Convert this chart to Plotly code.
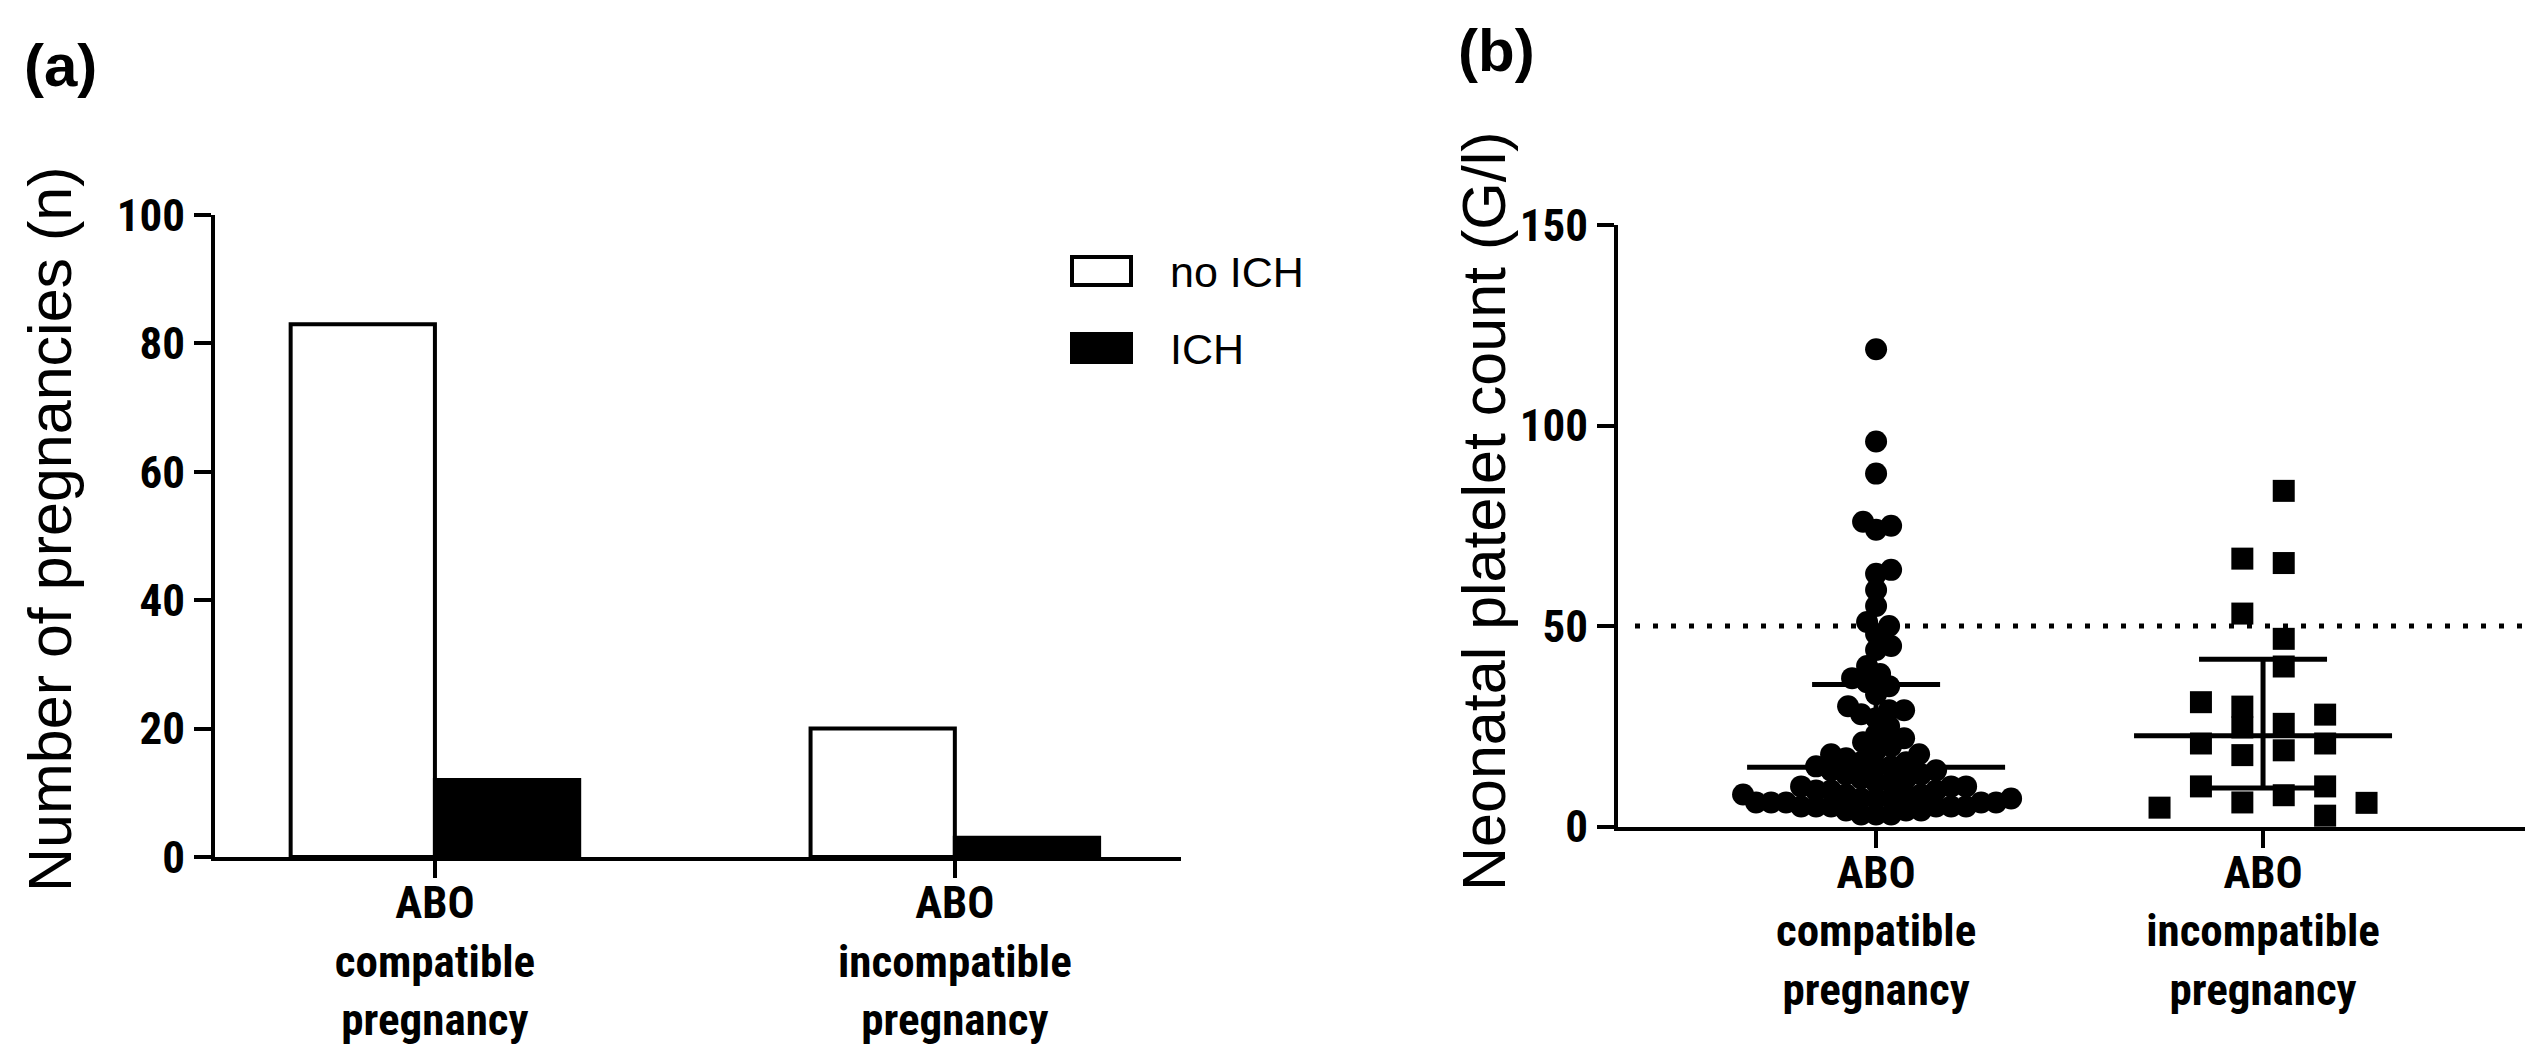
import numpy as np
import plotly.graph_objects as go

# ---------------- data ----------------
group_labels = ["ABO<br>compatible<br>pregnancy", "ABO<br>incompatible<br>pregnancy"]
group_pos = [0, 1]

# panel (a): number of pregnancies
no_ich_counts = [83, 20]
ich_counts = [12, 3]

# panel (b): neonatal platelet counts (G/l)
compatible_platelets = [119, 96, 88, 76, 75, 74, 64, 63, 59, 55,
                        51, 50, 48, 45, 44, 40, 38, 37, 36, 35,
                        33, 30, 29, 29, 28, 27, 25, 23, 22, 21,
                        20, 19, 18, 18, 17, 16, 16, 15, 15, 15,
                        14, 14, 13, 13, 12, 12, 11, 11, 10, 10,
                        10, 9, 9, 9, 8, 8, 8, 8, 7, 7,
                        7, 7, 6, 6, 6, 6, 6, 5, 5, 5,
                        5, 5, 5, 4, 4, 4, 3, 3, 3]
incompatible_platelets = [83.7, 66.8, 65.7, 53.1, 46.8, 39.9, 31.0, 29.9, 27.9, 25.6,
                          24.7, 20.7, 20.7, 19.0, 17.8, 10.0, 10.0, 7.8, 6.0, 4.7,
                          5.9, 2.7]
# column slot of each square in the scatter (half-column units)
incompatible_slot = [1, -1, 1, -1, 1, 1, -3, -1, 3, 1,
                     -1, -3, 3, 1, -1, -3, 3, 1, -1, -5,
                     5, 3]
median_vals = [14.8, 22.6]
q1_vals = [6.0, 9.6]
q3_vals = [35.4, 41.7]
threshold = 50

# ---------------- layout constants ----------------
W, H = 2536, 1062
NARROW = "Liberation Sans Narrow, Arial Narrow, Roboto Condensed, DejaVu Sans Condensed, sans-serif"
ARIAL = "Liberation Sans, Arial, Helvetica, sans-serif"

def px(xp):
    return xp / W

def py(yp):
    return 1 - yp / H

# panel geometry (pixels)
a_x0, a_x1, a_ytop, a_ybot = 207, 1173, 207, 849
b_x0, b_x1, b_ytop, b_ybot = 1610, 2517, 217, 818.5
a_xrange = [-0.423, 1.435]
b_xrange = [-0.667, 1.677]
b_px_per_x = (b_x1 - b_x0) / (b_xrange[1] - b_xrange[0])
b_px_per_y = (b_ybot - b_ytop) / 150.0
MARK = 22


def swarm_offsets(values, diam_px, ppx, ppy, frac=0.68):
    vals = np.asarray(values, dtype=float)
    order = np.argsort(vals, kind="stable")
    placed = []
    offs = np.zeros(len(vals))
    dmin2 = (diam_px * frac) ** 2
    cands = [0]
    for k in range(1, 600):
        cands += [k, -k]
    for i in order:
        yv = vals[i] * ppy
        for c in cands:
            if all((c - p) ** 2 + (yv - q) ** 2 >= dmin2 for p, q in placed):
                break
        placed.append((c, yv))
        offs[i] = c / ppx
    return offs


comp_x = group_pos[0] + swarm_offsets(compatible_platelets, MARK, b_px_per_x, b_px_per_y)
slot_w = 20.7 / b_px_per_x
incomp_x = [group_pos[1] + s * slot_w for s in incompatible_slot]

fig = go.Figure()

# ---- panel (a) bars ----
fig.add_trace(go.Bar(x=group_pos, y=no_ich_counts, name="no ICH",
                     marker=dict(color="white", line=dict(color="black", width=4)),
                     xaxis="x", yaxis="y", showlegend=False))
fig.add_trace(go.Bar(x=group_pos, y=ich_counts, name="ICH",
                     marker=dict(color="black", line=dict(color="black", width=4)),
                     xaxis="x", yaxis="y", showlegend=False))

# ---- panel (b) median / IQR lines ----
long_hw = 129 / b_px_per_x
short_hw = 64 / b_px_per_x
lx, ly = [], []
for g, m, lo, hi in zip(group_pos, median_vals, q1_vals, q3_vals):
    lx += [g - long_hw, g + long_hw, None, g - short_hw, g + short_hw, None,
           g - short_hw, g + short_hw, None, g, g, None]
    ly += [m, m, None, lo, lo, None, hi, hi, None, lo, hi, None]
fig.add_trace(go.Scatter(x=lx, y=ly, mode="lines", line=dict(color="black", width=5),
                         xaxis="x2", yaxis="y2", showlegend=False, hoverinfo="skip",
                         cliponaxis=False))

fig.add_trace(go.Scatter(x=comp_x, y=compatible_platelets, mode="markers",
                         name="ABO compatible",
                         marker=dict(symbol="circle", size=MARK, color="black"),
                         xaxis="x2", yaxis="y2", showlegend=False, cliponaxis=False))
fig.add_trace(go.Scatter(x=incomp_x, y=incompatible_platelets, mode="markers",
                         name="ABO incompatible",
                         marker=dict(symbol="square", size=MARK, color="black"),
                         xaxis="x2", yaxis="y2", showlegend=False, cliponaxis=False))

axis_common = dict(showline=True, linewidth=4, linecolor="black", ticks="outside",
                   ticklen=17, tickwidth=4, tickcolor="black", showgrid=False,
                   zeroline=False, fixedrange=True, automargin=False)
tickfont_num = dict(family=NARROW, size=45, color="black", weight="bold")
tickfont_cat = dict(family=NARROW, size=45, color="black", weight="bold")

fig.update_layout(
    template="none",
    width=W, height=H, margin=dict(l=0, r=0, t=0, b=0, pad=0, autoexpand=False),
    paper_bgcolor="white", plot_bgcolor="white",
    barmode="group", bargap=0.445, bargroupgap=0,
    showlegend=False,
    xaxis=dict(domain=[px(a_x0), px(a_x1)], range=a_xrange, anchor="y",
               tickvals=group_pos, ticktext=group_labels, tickfont=tickfont_cat,
               ticklabelstandoff=-14, **axis_common),
    yaxis=dict(domain=[py(a_ybot), py(a_ytop)], range=[0, 100], anchor="x",
               tickvals=[0, 20, 40, 60, 80, 100], tickfont=tickfont_num,
               **axis_common),
    xaxis2=dict(domain=[px(b_x0), px(b_x1)], range=b_xrange, anchor="y2",
                tickvals=group_pos, ticktext=group_labels, tickfont=tickfont_cat,
                ticklabelstandoff=-14, **axis_common),
    yaxis2=dict(domain=[py(b_ybot), py(b_ytop)], range=[0, 150], anchor="x2",
                tickvals=[0, 50, 100, 150], tickfont=tickfont_num,
                **axis_common),
)

# threshold dotted line
fig.add_shape(type="line", xref="x2 domain", yref="y2", x0=(1627 - b_x0) / (b_x1 - b_x0), x1=1,
              y0=threshold, y1=threshold, line=dict(color="black", width=5, dash="5px,13px"))

# legend (manual, large boxes)
fig.add_shape(type="rect", xref="paper", yref="paper", x0=px(1064), x1=px(1123),
              y0=py(277), y1=py(249), line=dict(color="black", width=4), fillcolor="white")
fig.add_shape(type="rect", xref="paper", yref="paper", x0=px(1062), x1=px(1125),
              y0=py(356), y1=py(324), line=dict(color="black", width=0), fillcolor="black")
fig.add_annotation(text="no ICH", xref="paper", yref="paper", x=px(1160), y=py(264),
                   xanchor="left", yanchor="middle", showarrow=False,
                   font=dict(family=ARIAL, size=43, color="black"))
fig.add_annotation(text="ICH", xref="paper", yref="paper", x=px(1160), y=py(341),
                   xanchor="left", yanchor="middle", showarrow=False,
                   font=dict(family=ARIAL, size=43, color="black"))

# axis titles
fig.add_annotation(text="Number of pregnancies (n)", xref="paper", yref="paper",
                   x=px(42), y=py(521), xanchor="center", yanchor="middle", textangle=-90,
                   showarrow=False, font=dict(family=ARIAL, size=61, color="black"))
fig.add_annotation(text="Neonatal platelet count (G/l)", xref="paper", yref="paper",
                   x=px(1476), y=py(503), xanchor="center", yanchor="middle", textangle=-90,
                   showarrow=False, font=dict(family=ARIAL, size=61, color="black"))

# panel letters
fig.add_annotation(text="<b>(a)</b>", xref="paper", yref="paper", x=px(52), y=py(57),
                   xanchor="center", yanchor="middle", showarrow=False,
                   font=dict(family=ARIAL, size=60, color="black"))
fig.add_annotation(text="<b>(b)</b>", xref="paper", yref="paper", x=px(1488), y=py(43),
                   xanchor="center", yanchor="middle", showarrow=False,
                   font=dict(family=ARIAL, size=60, color="black"))

fig.write_html("out.html")
